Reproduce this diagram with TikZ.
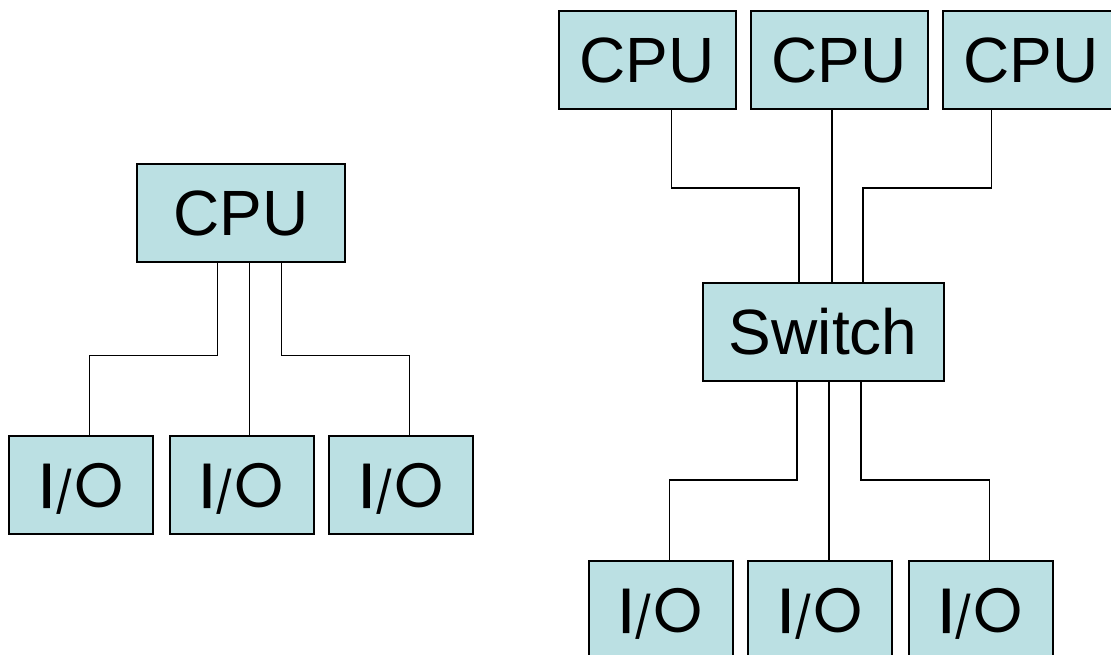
\documentclass[tikz,border=0pt]{standalone}
\usepackage{fontspec}
\setmainfont{Liberation Sans}
\newfontfamily\iofont{Poppins}
\newfontfamily\iobold{Poppins}[FakeBold=1.5]
\usepackage{xcolor}
\usepackage{tikz}
\usetikzlibrary{positioning}
\definecolor{boxfill}{RGB}{187,224,227}
% I/O label: heavy I, slash sitting on the baseline
\newcommand{\io}{{\iobold I}\resizebox*{15pt}{34pt}{/}O}

\begin{document}
\begin{tikzpicture}[x=0.75pt, y=-0.75pt,
  unit/.style={draw=black, fill=boxfill, line width=1.3pt, inner sep=0pt, outer sep=0pt,
    minimum height=73.5pt, text height=34pt, text depth=0pt,
    font=\fontsize{48}{52}\selectfont},
  iobox/.style={unit, minimum width=108pt, text height=34pt,
    font=\iofont\fontsize{47}{50}\selectfont},
  wire/.style={black, line width=1.1pt}]
% page frame, everything in pixel units (y grows downwards)
\useasboundingbox (0,0) rectangle (1111,655);
\clip (0,0) rectangle (1111,655);

% 1. Single CPU with its own I/O
\node[unit, minimum width=156pt] (lcpu) at (241.3,213.3) {CPU};
\foreach \i/\cx in {1/81.3, 2/241.7, 3/401.3}
  \node[iobox] (lio\i) at (\cx,485) {\io};

\draw[wire] ([xshift=-18pt]lcpu.south) -- ++(0,93) -| ([xshift=6pt]lio1.north);
\draw[wire] ([xshift=6pt]lio2.north) -- ([xshift=6pt]lio2.north |- lcpu.south);
\draw[wire] ([xshift=30pt]lcpu.south) -- ++(0,93) -| ([xshift=6pt]lio3.north);

% 2. Three CPUs sharing a switch
\foreach \i/\cx in {1/647.3, 2/839.3, 3/1031.3}
  \node[unit, minimum width=132.5pt] (cpu\i) at (\cx,60) {CPU};
\node[unit, minimum width=180.75pt] (sw) at (823.2,332) {Switch};
\foreach \i/\cx in {1/660.8, 2/820.3, 3/980.9}
  \node[iobox] (rio\i) at (\cx,610) {\io};

% switch, upper side
\draw[wire] ([xshift=18pt]cpu1.south) -- ++(0,79) -| ([xshift=-18pt]sw.north);
\draw[wire] ([xshift=6.6pt]sw.north) -- ([xshift=6.6pt]sw.north |- cpu2.south);
\draw[wire] ([xshift=-30pt]cpu3.south) -- ++(0,79) -| ([xshift=30pt]sw.north);

% switch, lower side
\draw[wire] ([xshift=-19.5pt]sw.south) -- ++(0,99) -| ([xshift=6.5pt]rio1.north);
\draw[wire] ([xshift=6.5pt]rio2.north) -- ([xshift=6.5pt]rio2.north |- sw.south);
\draw[wire] ([xshift=28.5pt]sw.south) -- ++(0,99) -| ([xshift=6.5pt]rio3.north);
\end{tikzpicture}
\end{document}
